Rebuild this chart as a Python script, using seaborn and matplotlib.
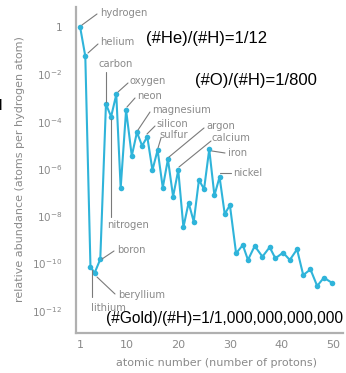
import numpy as np
import pandas as pd
import matplotlib
matplotlib.use("Agg")
import matplotlib.pyplot as plt
import seaborn as sns
from matplotlib.lines import Line2D

# ───── data ──────────────────────────────────────────────────────────────────
# atomic number (x) and log10 of relative abundance (y)
atomic_number = [1, 2, 3, 3.8, 4.9, 6, 7, 8, 8.85, 9.9, 11, 12, 13, 14, 15, 16,
                 17, 18, 19, 20, 21, 22, 23, 24, 25, 26, 27, 28, 29, 30,
                 31.2, 32.5, 33.5, 34.8, 36.3, 37.7, 38.8, 40.3, 41.6, 43.0,
                 44.2, 45.6, 46.9, 48.2, 49.7]
log_abundance = [0.0, -1.23, -10.14, -10.4, -9.82, -3.26, -3.79, -2.85, -6.81,
                 -3.51, -5.45, -4.45, -5.02, -4.64, -6.05, -5.2, -6.79, -5.59,
                 -7.17, -6.05, -8.47, -7.43, -8.23, -6.47, -6.85, -5.17, -7.12,
                 -6.34, -7.91, -7.53, -9.57, -9.22, -9.85, -9.26, -9.71, -9.31,
                 -9.78, -9.54, -9.85, -9.4, -10.49, -10.25, -10.95, -10.6, -10.81]
ytick_exp = [0, -2, -4, -6, -8, -10, -12]
xticks = [1, 10, 20, 30, 40, 50]

df = pd.DataFrame({"z": atomic_number, "abund": np.power(10.0, log_abundance)})

W, H = 346, 373
sns.set_style("white")
plt.rcParams["font.family"] = ["DejaVu Sans"]
fig = plt.figure(figsize=(W / 100, H / 100), dpi=100)
ax = fig.add_axes([76 / W, 1 - 333 / H, (343 - 76) / W, (333 - 7) / H])

blue = "#2fb4da"
gray = "#8a8a8a"
sns.lineplot(data=df, x="z", y="abund", ax=ax, color=blue, linewidth=1.5,
             marker="o", markersize=4, markeredgewidth=0, sort=False)

ax.set_yscale("log")
ax.set_xlim(0.2, 51.9)
ax.set_ylim(10 ** -12.94, 10 ** 0.85)
ax.set_yticks([10.0 ** e for e in ytick_exp])
ax.set_yticklabels(["1" if e == 0 else r"$10^{%d}$" % e for e in ytick_exp])
ax.minorticks_off()
ax.set_xticks(xticks)
ax.set_xlabel("")
ax.set_ylabel("")
for s in ["top", "right"]:
    ax.spines[s].set_visible(False)
for s in ["left", "bottom"]:
    ax.spines[s].set_color("#b0b0b0")
    ax.spines[s].set_linewidth(1.6)
ax.tick_params(direction="in", length=3, width=1, color="#a0a0a0",
               labelcolor=gray, labelsize=7.5)
ax.tick_params(axis="y", pad=10)
ax.tick_params(axis="x", pad=5, labelsize=8)


# helper: reference pixel -> figure fraction
def fp(x, y):
    return x / W, 1 - y / H


def lbl(text, x, y, size=7.2, color=gray, **kw):
    fx, fy = fp(x, y)
    fig.text(fx, fy, text, fontsize=size, color=color, va="center", ha="left", **kw)


def leader(x0, y0, x1, y1):
    a, b = fp(x0, y0)
    c, d = fp(x1, y1)
    fig.add_artist(Line2D([a, c], [b, d], color="#7a7a7a", linewidth=0.8))


# element labels
lbl("hydrogen", 100, 13)
leader(82, 25, 97, 14)
lbl("helium", 100, 42)
leader(88, 53, 98, 44)
lbl("carbon", 98, 64)
leader(106, 72, 106, 102)
lbl("nitrogen", 107, 225)
leader(111, 119, 111, 217)
lbl("oxygen", 130, 81)
leader(118, 92, 128, 83)
lbl("neon", 137, 96)
leader(127, 107, 135, 98)
lbl("magnesium", 152, 110)
leader(138, 130, 150, 112)
lbl("silicon", 156, 124)
leader(147, 134, 155, 126)
lbl("sulfur", 159, 135)
leader(158, 148, 161, 138)
lbl("argon", 206, 126)
leader(169, 157, 204, 128)
lbl("calcium", 212, 138)
leader(179, 167, 211, 141)
lbl("iron", 228, 153)
leader(212, 151, 225, 153)
lbl("nickel", 233, 173)
leader(220, 173, 231, 173)
lbl("boron", 117, 250)
leader(102, 259, 114, 251)
lbl("beryllium", 118, 295)
leader(97, 277, 115, 294)
lbl("lithium", 91, 308)
leader(91.5, 270, 91.5, 297)

# axis titles
fx, fy = fp(20, 169)
fig.text(fx, fy, "relative abundance (atoms per hydrogen atom)", rotation=90,
         fontsize=8, color=gray, ha="center", va="center")
fx, fy = fp(216, 363)
fig.text(fx, fy, "atomic number (number of protons)", fontsize=8, color=gray,
         ha="center", va="center")

# black ratio notes
fam = ["Liberation Sans", "DejaVu Sans"]
lbl("(#He)/(#H)=1/12", 146, 38, size=12, color="black", family=fam)
lbl("(#O)/(#H)=1/800", 195, 80, size=12, color="black", family=fam)
lbl("(#Gold)/(#H)=1/1,000,000,000,000", 106, 318, size=11.2, color="black", family=fam)
lbl("l", -1, 106, size=11, color="black", family=fam)

fig.savefig("out.png", dpi=100)
